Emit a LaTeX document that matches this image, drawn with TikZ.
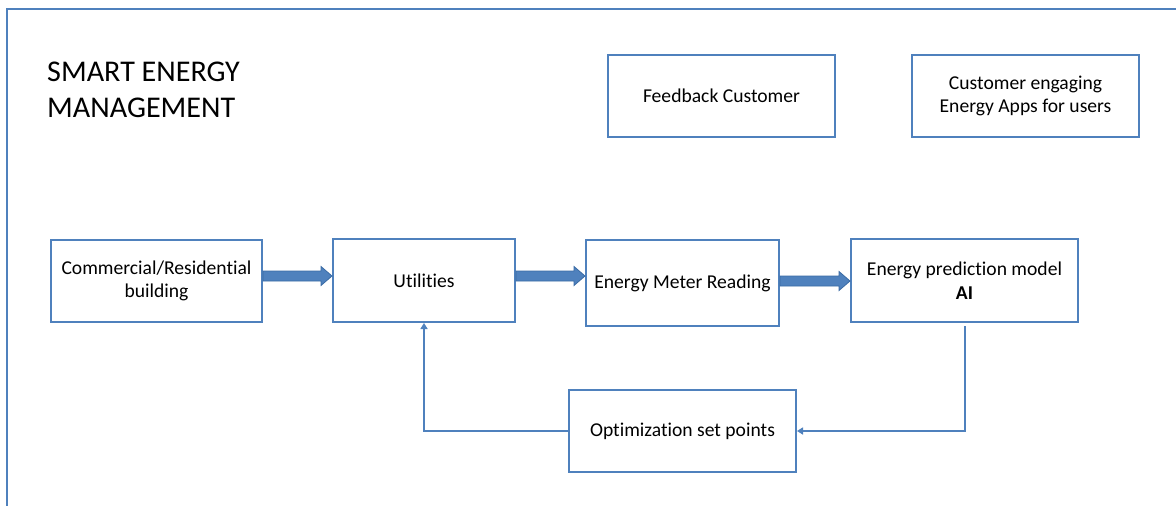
\documentclass[tikz,border=0pt]{standalone}
\usepackage{fontspec}
\setmainfont[Ligatures=NoCommon]{Carlito}
\usetikzlibrary{arrows.meta,calc}
\definecolor{boxblue}{HTML}{4F81BD}
\definecolor{darkblue}{HTML}{3A6BA5}
\tikzset{
  box/.style={draw=boxblue, line width=2pt, fill=white, inner sep=0pt, align=center,
    font=\fontsize{19.6}{23.5}\selectfont},
  fb/.style={draw=boxblue, line width=2pt, -{Triangle[width=7pt,length=6pt]}},
  barrowstyle/.style={fill=boxblue, draw=darkblue, line width=0.8pt, line join=miter},
  frame/.style={draw=boxblue, line width=2pt},
}
\newcommand{\blockarrow}[3]{%
  \path (#1.east |- 0,#3) coordinate (s) (#2.west |- 0,#3) coordinate (t);
  \filldraw[barrowstyle] ($(s)+(0,-5)$) -- ($(t)+(-11,-5)$) -- ($(t)+(-11,-9.5)$) -- (t)
    -- ($(t)+(-11,9.5)$) -- ($(t)+(-11,5)$) -- ($(s)+(0,5)$) -- cycle;}
\begin{document}
\begin{tikzpicture}[x=1pt,y=-1pt]
\useasboundingbox (0,0) rectangle (1176,506);
\fill[white] (0,0) rectangle (1176,506);
\draw[frame] (7,506) -- (7,9) -- (1176,9);
\node[anchor=north west, inner sep=0pt, align=left, font=\fontsize{30.1}{36}\selectfont] (title) at (47,62) {SMART ENERGY\\MANAGEMENT};
\node[box, minimum width=227pt, minimum height=82pt] (feed) at (721.5,96) {Feedback Customer};
\node[box, minimum width=227pt, minimum height=82pt] (apps) at (1025.5,96) {Customer engaging\\Energy Apps for users};
\node[box, minimum width=211pt, minimum height=82pt] (build) at (156.5,281) {Commercial/Residential\\building};
\node[box, minimum width=182pt, minimum height=83pt] (util) at (424,280.5) {Utilities};
\node[box, minimum width=193pt, minimum height=86pt] (meter) at (682.5,283) {Energy Meter Reading};
\node[box, minimum width=227pt, minimum height=83pt] (pred) at (964.5,280.5) {Energy prediction model\\\textbf{AI}};
\node[box, minimum width=227pt, minimum height=82pt] (opt) at (682.5,431) {Optimization set points};
\blockarrow{build}{util}{276}
\blockarrow{util}{meter}{276}
\blockarrow{meter}{pred}{281}
\draw[fb] (pred.south) ++(0,3) |- (opt.east);
\draw[fb] (opt.west) -| (util.south);
\end{tikzpicture}
\end{document}
